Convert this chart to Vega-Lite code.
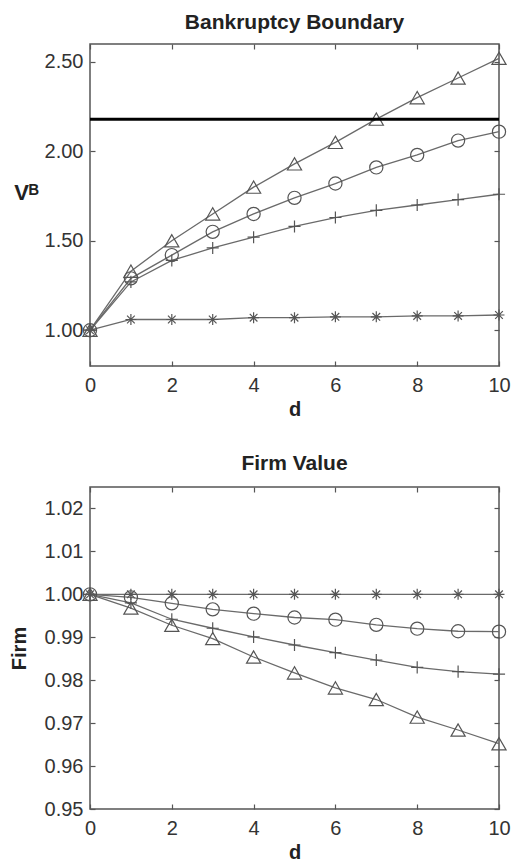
{
  "$schema": "https://vega.github.io/schema/vega-lite/v6.json",
  "background": "white",
  "padding": {"left": 8, "top": 11, "right": 5, "bottom": 5},
  "spacing": 32,
  "datasets": {
    "boundary": [
      {"d": 0, "series": "tri", "vb": 1.00}, {"d": 1, "series": "tri", "vb": 1.33}, {"d": 2, "series": "tri", "vb": 1.50},
      {"d": 3, "series": "tri", "vb": 1.65}, {"d": 4, "series": "tri", "vb": 1.80}, {"d": 5, "series": "tri", "vb": 1.93},
      {"d": 6, "series": "tri", "vb": 2.05}, {"d": 7, "series": "tri", "vb": 2.18}, {"d": 8, "series": "tri", "vb": 2.30},
      {"d": 9, "series": "tri", "vb": 2.41}, {"d": 10, "series": "tri", "vb": 2.52},
      {"d": 0, "series": "circ", "vb": 1.00}, {"d": 1, "series": "circ", "vb": 1.29}, {"d": 2, "series": "circ", "vb": 1.42},
      {"d": 3, "series": "circ", "vb": 1.55}, {"d": 4, "series": "circ", "vb": 1.65}, {"d": 5, "series": "circ", "vb": 1.74},
      {"d": 6, "series": "circ", "vb": 1.82}, {"d": 7, "series": "circ", "vb": 1.91}, {"d": 8, "series": "circ", "vb": 1.98},
      {"d": 9, "series": "circ", "vb": 2.06}, {"d": 10, "series": "circ", "vb": 2.11},
      {"d": 0, "series": "plus", "vb": 1.00}, {"d": 1, "series": "plus", "vb": 1.27}, {"d": 2, "series": "plus", "vb": 1.39},
      {"d": 3, "series": "plus", "vb": 1.46}, {"d": 4, "series": "plus", "vb": 1.52}, {"d": 5, "series": "plus", "vb": 1.58},
      {"d": 6, "series": "plus", "vb": 1.63}, {"d": 7, "series": "plus", "vb": 1.67}, {"d": 8, "series": "plus", "vb": 1.70},
      {"d": 9, "series": "plus", "vb": 1.73}, {"d": 10, "series": "plus", "vb": 1.76},
      {"d": 0, "series": "star", "vb": 1.00}, {"d": 1, "series": "star", "vb": 1.06}, {"d": 2, "series": "star", "vb": 1.06},
      {"d": 3, "series": "star", "vb": 1.06}, {"d": 4, "series": "star", "vb": 1.07}, {"d": 5, "series": "star", "vb": 1.07},
      {"d": 6, "series": "star", "vb": 1.075}, {"d": 7, "series": "star", "vb": 1.075}, {"d": 8, "series": "star", "vb": 1.08},
      {"d": 9, "series": "star", "vb": 1.08}, {"d": 10, "series": "star", "vb": 1.085}
    ],
    "firm": [
      {"d": 0, "series": "tri", "v": 1.000}, {"d": 1, "series": "tri", "v": 0.9968}, {"d": 2, "series": "tri", "v": 0.9928},
      {"d": 3, "series": "tri", "v": 0.9897}, {"d": 4, "series": "tri", "v": 0.9854}, {"d": 5, "series": "tri", "v": 0.9817},
      {"d": 6, "series": "tri", "v": 0.9782}, {"d": 7, "series": "tri", "v": 0.9755}, {"d": 8, "series": "tri", "v": 0.9714},
      {"d": 9, "series": "tri", "v": 0.9684}, {"d": 10, "series": "tri", "v": 0.9652},
      {"d": 0, "series": "circ", "v": 1.000}, {"d": 1, "series": "circ", "v": 0.9993}, {"d": 2, "series": "circ", "v": 0.9979},
      {"d": 3, "series": "circ", "v": 0.9965}, {"d": 4, "series": "circ", "v": 0.9955}, {"d": 5, "series": "circ", "v": 0.9946},
      {"d": 6, "series": "circ", "v": 0.9941}, {"d": 7, "series": "circ", "v": 0.9929}, {"d": 8, "series": "circ", "v": 0.9920},
      {"d": 9, "series": "circ", "v": 0.9914}, {"d": 10, "series": "circ", "v": 0.9913},
      {"d": 0, "series": "plus", "v": 1.000}, {"d": 1, "series": "plus", "v": 0.9980}, {"d": 2, "series": "plus", "v": 0.9942},
      {"d": 3, "series": "plus", "v": 0.9921}, {"d": 4, "series": "plus", "v": 0.9901}, {"d": 5, "series": "plus", "v": 0.9882},
      {"d": 6, "series": "plus", "v": 0.9864}, {"d": 7, "series": "plus", "v": 0.9847}, {"d": 8, "series": "plus", "v": 0.9830},
      {"d": 9, "series": "plus", "v": 0.9820}, {"d": 10, "series": "plus", "v": 0.9814},
      {"d": 0, "series": "star", "v": 1.000}, {"d": 1, "series": "star", "v": 1.000}, {"d": 2, "series": "star", "v": 1.000},
      {"d": 3, "series": "star", "v": 1.000}, {"d": 4, "series": "star", "v": 1.000}, {"d": 5, "series": "star", "v": 1.000},
      {"d": 6, "series": "star", "v": 1.000}, {"d": 7, "series": "star", "v": 1.000}, {"d": 8, "series": "star", "v": 1.000},
      {"d": 9, "series": "star", "v": 1.000}, {"d": 10, "series": "star", "v": 1.000}
    ],
    "levels": [{"vb": 2.18}]
  },
  "vconcat": [
    {
      "title": {"text": "Bankruptcy Boundary", "offset": 10},
      "width": 409,
      "height": 322,
      "data": {"name": "boundary"},
      "layer": [
        {
          "mark": {"type": "line", "color": "#6a6a6a", "strokeWidth": 1.3},
          "encoding": {
            "x": {"field": "d", "type": "quantitative", "scale": {"domain": [0, 10], "nice": false},
                  "axis": {"orient": "bottom", "values": [0, 2, 4, 6, 8, 10], "title": "d"}},
            "y": {"field": "vb", "type": "quantitative", "scale": {"domain": [0.8, 2.6], "nice": false, "zero": false},
                  "axis": {"orient": "left", "values": [1, 1.5, 2, 2.5], "format": ".2f", "title": "Vᴮ",
                           "titleAngle": 0, "titleX": -64, "titleY": 148, "titleAlign": "center", "titleBaseline": "middle", "titleFontSize": 22}},
            "detail": {"field": "series"}
          }
        },
        {
          "mark": {"type": "point", "filled": false, "color": "#555", "strokeWidth": 1.2, "opacity": 1},
          "encoding": {
            "x": {"field": "d", "type": "quantitative",
                  "axis": {"orient": "top", "values": [0, 2, 4, 6, 8, 10], "labels": false, "title": null}},
            "y": {"field": "vb", "type": "quantitative",
                  "axis": {"orient": "right", "values": [1, 1.5, 2, 2.5], "labels": false, "title": null}},
            "shape": {"field": "series", "legend": null,
                      "scale": {"domain": ["tri", "circ", "plus", "star"],
                                "range": ["triangle-up", "circle", "M-1,0L1,0M0,-1L0,1", "M-1,0L1,0M0,-1L0,1M-0.7,-0.7L0.7,0.7M-0.7,0.7L0.7,-0.7"]}},
            "size": {"field": "series", "type": "nominal", "legend": null,
                     "scale": {"domain": ["tri", "circ", "plus", "star"], "range": [200, 120, 144, 49]}}
          }
        },
        {
          "data": {"name": "levels"},
          "mark": {"type": "rule", "color": "#000", "strokeWidth": 3},
          "encoding": {"y": {"field": "vb", "type": "quantitative", "axis": null}}
        }
      ],
      "resolve": {"axis": {"x": "independent", "y": "independent"}}
    },
    {
      "title": {"text": "Firm Value", "offset": 12},
      "width": 409,
      "height": 322,
      "data": {"name": "firm"},
      "layer": [
        {
          "mark": {"type": "line", "color": "#6a6a6a", "strokeWidth": 1.3},
          "encoding": {
            "x": {"field": "d", "type": "quantitative", "scale": {"domain": [0, 10], "nice": false},
                  "axis": {"orient": "bottom", "values": [0, 2, 4, 6, 8, 10], "title": "d"}},
            "y": {"field": "v", "type": "quantitative", "scale": {"domain": [0.95, 1.025], "nice": false, "zero": false},
                  "axis": {"orient": "left", "values": [0.95, 0.96, 0.97, 0.98, 0.99, 1.0, 1.01, 1.02], "format": ".2f", "title": "Firm",
                           "titleAngle": -90, "titleX": -71, "titleY": 161, "titleAlign": "center", "titleBaseline": "middle"}},
            "detail": {"field": "series"}
          }
        },
        {
          "mark": {"type": "point", "filled": false, "color": "#555", "strokeWidth": 1.2, "opacity": 1},
          "encoding": {
            "x": {"field": "d", "type": "quantitative",
                  "axis": {"orient": "top", "values": [0, 2, 4, 6, 8, 10], "labels": false, "title": null}},
            "y": {"field": "v", "type": "quantitative",
                  "axis": {"orient": "right", "values": [0.95, 0.96, 0.97, 0.98, 0.99, 1.0, 1.01, 1.02], "labels": false, "title": null}},
            "shape": {"field": "series", "legend": null,
                      "scale": {"domain": ["tri", "circ", "plus", "star"],
                                "range": ["triangle-up", "circle", "M-1,0L1,0M0,-1L0,1", "M-1,0L1,0M0,-1L0,1M-0.7,-0.7L0.7,0.7M-0.7,0.7L0.7,-0.7"]}},
            "size": {"field": "series", "type": "nominal", "legend": null,
                     "scale": {"domain": ["tri", "circ", "plus", "star"], "range": [200, 120, 144, 49]}}
          }
        }
      ],
      "resolve": {"axis": {"x": "independent", "y": "independent"}}
    }
  ],
  "config": {
    "view": {"stroke": "#555", "strokeWidth": 1.5},
    "font": "Liberation Sans",
    "title": {"font": "Liberation Sans", "fontSize": 21, "fontWeight": "bold", "color": "#222", "anchor": "middle"},
    "axis": {
      "domain": false,
      "grid": false,
      "ticks": true,
      "tickSize": -5,
      "tickColor": "#555",
      "tickWidth": 1.2,
      "labelFont": "Liberation Sans",
      "labelFontSize": 20,
      "labelColor": "#333",
      "labelPadding": 12,
      "labelFlush": false,
      "labelOverlap": false,
      "titleFont": "Liberation Sans",
      "titleFontSize": 20,
      "titleFontWeight": "bold",
      "titleColor": "#222"
    },
    "axisBottom": {"labelPadding": 14, "titlePadding": 4}
  }
}
